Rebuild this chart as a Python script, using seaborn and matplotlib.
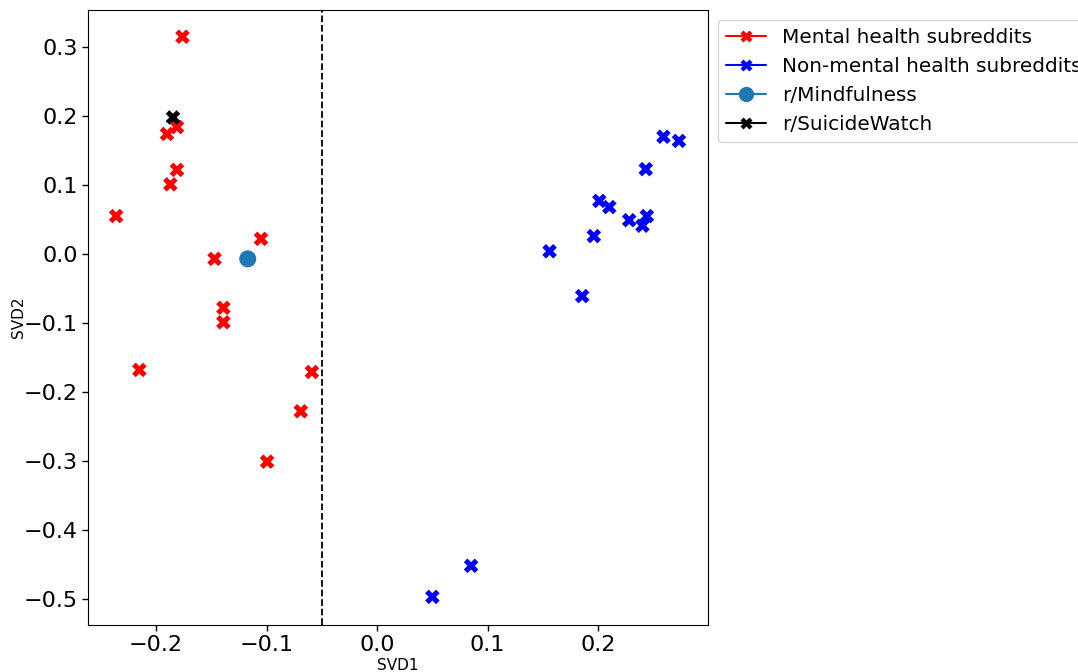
import matplotlib
matplotlib.use("Agg")
import pandas as pd
import matplotlib.pyplot as plt
import seaborn as sns
from matplotlib.lines import Line2D

# SVD coordinates
mental_x = [-0.176, -0.181, -0.190, -0.181, -0.187, -0.236, -0.105, -0.147,
            -0.139, -0.139, -0.215, -0.059, -0.069, -0.0995]
mental_y = [0.315, 0.184, 0.174, 0.122, 0.101, 0.055, 0.022, -0.007,
            -0.078, -0.099, -0.168, -0.171, -0.228, -0.301]

other_x = [0.259, 0.273, 0.243, 0.201, 0.210, 0.228, 0.244, 0.240,
           0.196, 0.156, 0.1855, 0.085, 0.050]
other_y = [0.170, 0.164, 0.123, 0.077, 0.068, 0.049, 0.055, 0.041,
           0.026, 0.004, -0.061, -0.452, -0.497]

mindful_x = [-0.117]
mindful_y = [-0.007]
suicide_x = [-0.1846]
suicide_y = [0.198]

split_x = -0.05

mental = pd.DataFrame({'SVD1': mental_x, 'SVD2': mental_y})
other = pd.DataFrame({'SVD1': other_x, 'SVD2': other_y})
mindful = pd.DataFrame({'SVD1': mindful_x, 'SVD2': mindful_y})
suicide = pd.DataFrame({'SVD1': suicide_x, 'SVD2': suicide_y})

sns.set_style("white")
plt.rcParams['font.family'] = ['DejaVu Sans']
plt.rcParams['text.color'] = 'black'
plt.rcParams['axes.labelcolor'] = 'black'
plt.rcParams['xtick.color'] = 'black'
plt.rcParams['ytick.color'] = 'black'

fig, ax = plt.subplots(figsize=(10.78, 6.72), dpi=100)
fig.subplots_adjust(left=0.0816, right=0.657, top=0.985, bottom=0.07)

sns.scatterplot(data=mental, x='SVD1', y='SVD2', color='red', marker='X', s=110,
                edgecolor='none', ax=ax, legend=False)
sns.scatterplot(data=other, x='SVD1', y='SVD2', color='blue', marker='X', s=110,
                edgecolor='none', ax=ax, legend=False)
sns.scatterplot(data=mindful, x='SVD1', y='SVD2', color='#1f77b4', marker='o', s=150,
                edgecolor='none', ax=ax, legend=False)
sns.scatterplot(data=suicide, x='SVD1', y='SVD2', color='black', marker='X', s=110,
                edgecolor='none', ax=ax, legend=False)

ax.axvline(split_x, color='black', linestyle='--', linewidth=1.3)

ax.set_xlim(-0.2615, 0.2995)
ax.set_ylim(-0.5377, 0.3536)
ax.set_xticks([-0.2, -0.1, 0.0, 0.1, 0.2])
ax.set_yticks([-0.5, -0.4, -0.3, -0.2, -0.1, 0.0, 0.1, 0.2, 0.3])
ax.tick_params(axis='both', labelsize=16, length=4, width=1, direction='out',
               bottom=True, left=True, colors='black')
ax.set_xlabel('SVD1', fontsize=11, labelpad=2)
ax.set_ylabel('SVD2', fontsize=11, labelpad=-2)
for sp in ax.spines.values():
    sp.set_color('black')
    sp.set_linewidth(0.8)

handles = [
    Line2D([], [], color='red', marker='X', markersize=9, markeredgecolor='none'),
    Line2D([], [], color='blue', marker='X', markersize=9, markeredgecolor='none'),
    Line2D([], [], color='#1f77b4', marker='o', markersize=11, markeredgecolor='none'),
    Line2D([], [], color='black', marker='X', markersize=9, markeredgecolor='none'),
]
labels = ['Mental health subreddits', 'Non-mental health subreddits',
          'r/Mindfulness', 'r/SuicideWatch']
ax.legend(handles, labels, loc='upper left', bbox_to_anchor=(1.0, 1.0),
          fontsize=14.4, frameon=True)

fig.savefig('out.png', dpi=100)
